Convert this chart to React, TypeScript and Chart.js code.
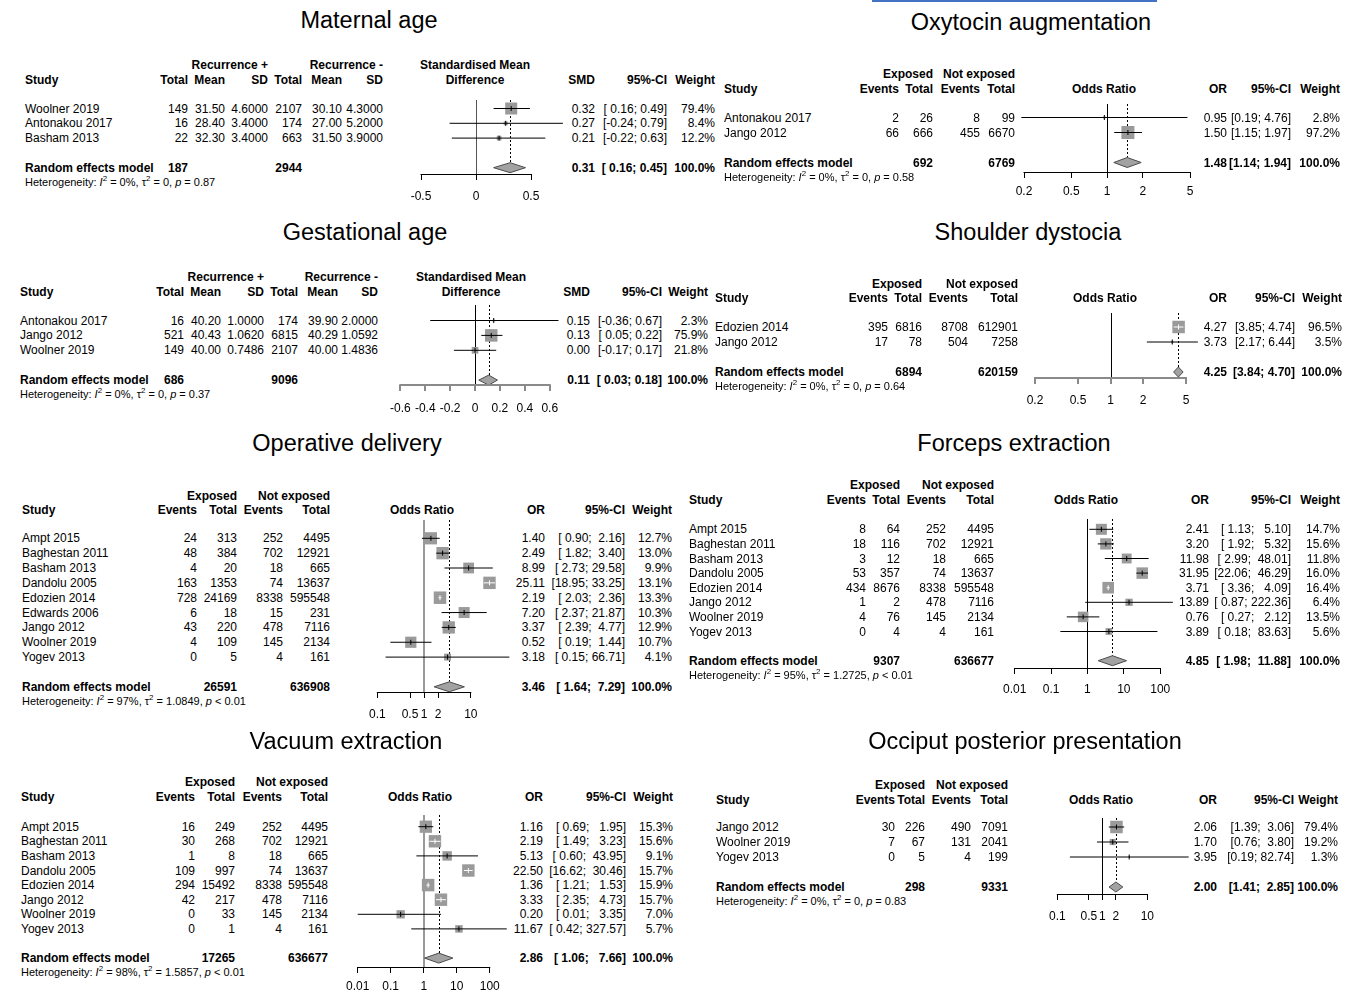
import React, { useEffect, useRef } from "react";
import { Chart, registerables } from "chart.js";

Chart.register(...registerables);

const FONT = '"Liberation Sans", Arial, Helvetica, sans-serif';
const SQUARE = "#9a9a9a";
const DIAMOND_FILL = "#a2a2a2";
const DIAMOND_LINE = "#4a4a4a";
const DIAMOND_H = 5;

// ---------------- Maternal age (SMD) ----------------
const MA_STUDIES = ["Woolner 2019", "Antonakou 2017", "Basham 2013"];
const MA_TOTAL_POS = [149, 16, 22];
const MA_MEAN_POS = [31.5, 28.4, 32.3];
const MA_SD_POS = [4.6, 3.4, 3.4];
const MA_TOTAL_NEG = [2107, 174, 663];
const MA_MEAN_NEG = [30.1, 27.0, 31.5];
const MA_SD_NEG = [4.3, 5.2, 3.9];
const MA_SMD = [0.32, 0.27, 0.21];
const MA_LOWER = [0.16, -0.24, -0.22];
const MA_UPPER = [0.49, 0.79, 0.63];
const MA_WEIGHT = [79.4, 8.4, 12.2];
const MA_POOLED = [0.31, 0.16, 0.45];
const MA_TOTALS = [187, 2944];
const MA_HET = ["0%", "0", "= 0.87"];
const MA_TICKS = [-0.5, 0, 0.5];
const MA_TICK_LABELS = ["-0.5", "0", "0.5"];

// ---------------- Gestational age (SMD) ----------------
const GA_STUDIES = ["Antonakou 2017", "Jango 2012", "Woolner 2019"];
const GA_TOTAL_POS = [16, 521, 149];
const GA_MEAN_POS = [40.2, 40.43, 40.0];
const GA_SD_POS = [1.0, 1.062, 0.7486];
const GA_TOTAL_NEG = [174, 6815, 2107];
const GA_MEAN_NEG = [39.9, 40.29, 40.0];
const GA_SD_NEG = [2.0, 1.0592, 1.4836];
const GA_SMD = [0.15, 0.13, 0.0];
const GA_LOWER = [-0.36, 0.05, -0.17];
const GA_UPPER = [0.67, 0.22, 0.17];
const GA_WEIGHT = [2.3, 75.9, 21.8];
const GA_POOLED = [0.11, 0.03, 0.18];
const GA_TOTALS = [686, 9096];
const GA_HET = ["0%", "0", "= 0.37"];
const GA_TICKS = [-0.6, -0.4, -0.2, 0, 0.2, 0.4, 0.6];
const GA_TICK_LABELS = ["-0.6", "-0.4", "-0.2", "0", "0.2", "0.4", "0.6"];

// ---------------- Oxytocin augmentation (OR) ----------------
const OX_STUDIES = ["Antonakou 2017", "Jango 2012"];
const OX_EVENTS_EXP = [2, 66];
const OX_TOTAL_EXP = [26, 666];
const OX_EVENTS_NOT = [8, 455];
const OX_TOTAL_NOT = [99, 6670];
const OX_OR = [0.95, 1.5];
const OX_LOWER = [0.19, 1.15];
const OX_UPPER = [4.76, 1.97];
const OX_WEIGHT = [2.8, 97.2];
const OX_POOLED = [1.48, 1.14, 1.94];
const OX_TOTALS = [692, 6769];
const OX_HET = ["0%", "0", "= 0.58"];

// ---------------- Shoulder dystocia (OR) ----------------
const SD_STUDIES = ["Edozien 2014", "Jango 2012"];
const SD_EVENTS_EXP = [395, 17];
const SD_TOTAL_EXP = [6816, 78];
const SD_EVENTS_NOT = [8708, 504];
const SD_TOTAL_NOT = [612901, 7258];
const SD_OR = [4.27, 3.73];
const SD_LOWER = [3.85, 2.17];
const SD_UPPER = [4.74, 6.44];
const SD_WEIGHT = [96.5, 3.5];
const SD_POOLED = [4.25, 3.84, 4.7];
const SD_TOTALS = [6894, 620159];
const SD_HET = ["0%", "0", "= 0.64"];

const OR_TICKS_A = [0.2, 0.5, 1, 2, 5];
const OR_TICK_LABELS_A = ["0.2", "0.5", "1", "2", "5"];
const OR_TICKS_B = [0.1, 0.5, 1, 2, 10];
const OR_TICK_LABELS_B = ["0.1", "0.5", "1", "2", "10"];
const OR_TICKS_C = [0.01, 0.1, 1, 10, 100];
const OR_TICK_LABELS_C = ["0.01", "0.1", "1", "10", "100"];

// ---------------- Operative delivery (OR) ----------------
const OP_STUDIES = ["Ampt 2015", "Baghestan 2011", "Basham 2013", "Dandolu 2005", "Edozien 2014", "Edwards 2006", "Jango 2012", "Woolner 2019", "Yogev 2013"];
const OP_EVENTS_EXP = [24, 48, 4, 163, 728, 6, 43, 4, 0];
const OP_TOTAL_EXP = [313, 384, 20, 1353, 24169, 18, 220, 109, 5];
const OP_EVENTS_NOT = [252, 702, 18, 74, 8338, 15, 478, 145, 4];
const OP_TOTAL_NOT = [4495, 12921, 665, 13637, 595548, 231, 7116, 2134, 161];
const OP_OR = [1.4, 2.49, 8.99, 25.11, 2.19, 7.2, 3.37, 0.52, 3.18];
const OP_LOWER = [0.9, 1.82, 2.73, 18.95, 2.03, 2.37, 2.39, 0.19, 0.15];
const OP_UPPER = [2.16, 3.4, 29.58, 33.25, 2.36, 21.87, 4.77, 1.44, 66.71];
const OP_WEIGHT = [12.7, 13.0, 9.9, 13.1, 13.3, 10.3, 12.9, 10.7, 4.1];
const OP_POOLED = [3.46, 1.64, 7.29];
const OP_TOTALS = [26591, 636908];
const OP_HET = ["97%", "1.0849", "< 0.01"];

// ---------------- Forceps extraction (OR) ----------------
const FO_STUDIES = ["Ampt 2015", "Baghestan 2011", "Basham 2013", "Dandolu 2005", "Edozien 2014", "Jango 2012", "Woolner 2019", "Yogev 2013"];
const FO_EVENTS_EXP = [8, 18, 3, 53, 434, 1, 4, 0];
const FO_TOTAL_EXP = [64, 116, 12, 357, 8676, 2, 76, 4];
const FO_EVENTS_NOT = [252, 702, 18, 74, 8338, 478, 145, 4];
const FO_TOTAL_NOT = [4495, 12921, 665, 13637, 595548, 7116, 2134, 161];
const FO_OR = [2.41, 3.2, 11.98, 31.95, 3.71, 13.89, 0.76, 3.89];
const FO_LOWER = [1.13, 1.92, 2.99, 22.06, 3.36, 0.87, 0.27, 0.18];
const FO_UPPER = [5.1, 5.32, 48.01, 46.29, 4.09, 222.36, 2.12, 83.63];
const FO_WEIGHT = [14.7, 15.6, 11.8, 16.0, 16.4, 6.4, 13.5, 5.6];
const FO_POOLED = [4.85, 1.98, 11.88];
const FO_TOTALS = [9307, 636677];
const FO_HET = ["95%", "1.2725", "< 0.01"];

// ---------------- Vacuum extraction (OR) ----------------
const VA_STUDIES = ["Ampt 2015", "Baghestan 2011", "Basham 2013", "Dandolu 2005", "Edozien 2014", "Jango 2012", "Woolner 2019", "Yogev 2013"];
const VA_EVENTS_EXP = [16, 30, 1, 109, 294, 42, 0, 0];
const VA_TOTAL_EXP = [249, 268, 8, 997, 15492, 217, 33, 1];
const VA_EVENTS_NOT = [252, 702, 18, 74, 8338, 478, 145, 4];
const VA_TOTAL_NOT = [4495, 12921, 665, 13637, 595548, 7116, 2134, 161];
const VA_OR = [1.16, 2.19, 5.13, 22.5, 1.36, 3.33, 0.2, 11.67];
const VA_LOWER = [0.69, 1.49, 0.6, 16.62, 1.21, 2.35, 0.01, 0.42];
const VA_UPPER = [1.95, 3.23, 43.95, 30.46, 1.53, 4.73, 3.35, 327.57];
const VA_WEIGHT = [15.3, 15.6, 9.1, 15.7, 15.9, 15.7, 7.0, 5.7];
const VA_POOLED = [2.86, 1.06, 7.66];
const VA_TOTALS = [17265, 636677];
const VA_HET = ["98%", "1.5857", "< 0.01"];

// ---------------- Occiput posterior presentation (OR) ----------------
const OC_STUDIES = ["Jango 2012", "Woolner 2019", "Yogev 2013"];
const OC_EVENTS_EXP = [30, 7, 0];
const OC_TOTAL_EXP = [226, 67, 5];
const OC_EVENTS_NOT = [490, 131, 4];
const OC_TOTAL_NOT = [7091, 2041, 199];
const OC_OR = [2.06, 1.7, 3.95];
const OC_LOWER = [1.39, 0.76, 0.19];
const OC_UPPER = [3.06, 3.8, 82.74];
const OC_WEIGHT = [79.4, 19.2, 1.3];
const OC_POOLED = [2.0, 1.41, 2.85];
const OC_TOTALS = [298, 9331];
const OC_HET = ["0%", "0", "= 0.83"];

// ---------------- helpers ----------------
const f2 = (v: number) => v.toFixed(2);
const f4 = (v: number) => v.toFixed(4);
const pct = (v: number) => v.toFixed(1) + "%";
const str = (a: number[]) => a.map((v) => String(v));

function ciStrings(lo: number[], hi: number[], plo: number, phi: number) {
  const L = [...lo, plo].map(f2);
  const H = [...hi, phi].map(f2);
  const wl = Math.max(...L.map((s) => s.length));
  const wh = Math.max(...H.map((s) => s.length));
  return L.map((l, i) => `[${l.padStart(wl)}; ${H[i].padStart(wh)}]`);
}

type Panel = {
  kind: "smd" | "or";
  title: string; titleX: number; titleY: number;
  studyX: number; h1Y: number; h2Y: number; rowY0: number; rowH: number;
  colX: number[]; effX: number; estX: number; ciX: number; wX: number;
  studies: string[]; cols: string[][]; totals: number[];
  est: number[]; lo: number[]; hi: number[]; w: number[]; pool: number[]; het: string[];
  log: boolean; ticks: number[]; tickLabels: string[]; px0: number; px1: number; nullValue: number;
  chartLeft: number; chartWidth: number; nullTop: number; axisY: number; tickPad: number;
  nullColor: string; nullWidth: number; axisColor: string; axisWidth: number; maxSide: number;
};

const PANELS: Panel[] = [
  {
    kind: "smd", title: "Maternal age", titleX: 369, titleY: 20,
    studyX: 25, h1Y: 65, h2Y: 80, rowY0: 108.5, rowH: 14.8,
    colX: [188, 225, 268, 302, 342, 383], effX: 475, estX: 595, ciX: 667, wX: 715,
    studies: MA_STUDIES,
    cols: [str(MA_TOTAL_POS), MA_MEAN_POS.map(f2), MA_SD_POS.map(f4), str(MA_TOTAL_NEG), MA_MEAN_NEG.map(f2), MA_SD_NEG.map(f4)],
    totals: MA_TOTALS, est: MA_SMD, lo: MA_LOWER, hi: MA_UPPER, w: MA_WEIGHT, pool: MA_POOLED, het: MA_HET,
    log: false, ticks: MA_TICKS, tickLabels: MA_TICK_LABELS, px0: 421, px1: 531, nullValue: 0,
    chartLeft: 400, chartWidth: 180, nullTop: 100, axisY: 174, tickPad: 9,
    nullColor: "#555555", nullWidth: 1, axisColor: "#000000", axisWidth: 1, maxSide: 12,
  },
  {
    kind: "smd", title: "Gestational age", titleX: 365, titleY: 232,
    studyX: 20, h1Y: 277, h2Y: 292, rowY0: 320.5, rowH: 14.9,
    colX: [184, 221, 264, 298, 338, 378], effX: 471, estX: 590, ciX: 662, wX: 708,
    studies: GA_STUDIES,
    cols: [str(GA_TOTAL_POS), GA_MEAN_POS.map(f2), GA_SD_POS.map(f4), str(GA_TOTAL_NEG), GA_MEAN_NEG.map(f2), GA_SD_NEG.map(f4)],
    totals: GA_TOTALS, est: GA_SMD, lo: GA_LOWER, hi: GA_UPPER, w: GA_WEIGHT, pool: GA_POOLED, het: GA_HET,
    log: false, ticks: GA_TICKS, tickLabels: GA_TICK_LABELS, px0: 394, px1: 549, nullValue: 0,
    chartLeft: 380, chartWidth: 190, nullTop: 305, axisY: 385, tickPad: 10,
    nullColor: "#000000", nullWidth: 1, axisColor: "#8a8a8a", axisWidth: 2, maxSide: 12.5,
  },
  {
    kind: "or", title: "Oxytocin augmentation", titleX: 1031, titleY: 22,
    studyX: 724, h1Y: 74, h2Y: 89, rowY0: 117.5, rowH: 15,
    colX: [899, 933, 980, 1015], effX: 1104, estX: 1227, ciX: 1291, wX: 1340,
    studies: OX_STUDIES,
    cols: [str(OX_EVENTS_EXP), str(OX_TOTAL_EXP), str(OX_EVENTS_NOT), str(OX_TOTAL_NOT)],
    totals: OX_TOTALS, est: OX_OR, lo: OX_LOWER, hi: OX_UPPER, w: OX_WEIGHT, pool: OX_POOLED, het: OX_HET,
    log: true, ticks: OR_TICKS_A, tickLabels: OR_TICK_LABELS_A, px0: 1024, px1: 1190, nullValue: 1,
    chartLeft: 1005, chartWidth: 195, nullTop: 104, axisY: 172, tickPad: 6,
    nullColor: "#000000", nullWidth: 1, axisColor: "#000000", axisWidth: 1, maxSide: 13,
  },
  {
    kind: "or", title: "Shoulder dystocia", titleX: 1028, titleY: 232,
    studyX: 715, h1Y: 284, h2Y: 298, rowY0: 327, rowH: 15,
    colX: [888, 922, 968, 1018], effX: 1105, estX: 1227, ciX: 1295, wX: 1342,
    studies: SD_STUDIES,
    cols: [str(SD_EVENTS_EXP), str(SD_TOTAL_EXP), str(SD_EVENTS_NOT), str(SD_TOTAL_NOT)],
    totals: SD_TOTALS, est: SD_OR, lo: SD_LOWER, hi: SD_UPPER, w: SD_WEIGHT, pool: SD_POOLED, het: SD_HET,
    log: true, ticks: OR_TICKS_A, tickLabels: OR_TICK_LABELS_A, px0: 1035, px1: 1186, nullValue: 1,
    chartLeft: 1015, chartWidth: 190, nullTop: 313, axisY: 378, tickPad: 9,
    nullColor: "#000000", nullWidth: 1, axisColor: "#8a8a8a", axisWidth: 2, maxSide: 12.5,
  },
  {
    kind: "or", title: "Operative delivery", titleX: 347, titleY: 443,
    studyX: 22, h1Y: 496, h2Y: 510, rowY0: 538.3, rowH: 14.85,
    colX: [197, 237, 283, 330], effX: 422, estX: 545, ciX: 625, wX: 672,
    studies: OP_STUDIES,
    cols: [str(OP_EVENTS_EXP), str(OP_TOTAL_EXP), str(OP_EVENTS_NOT), str(OP_TOTAL_NOT)],
    totals: OP_TOTALS, est: OP_OR, lo: OP_LOWER, hi: OP_UPPER, w: OP_WEIGHT, pool: OP_POOLED, het: OP_HET,
    log: true, ticks: OR_TICKS_B, tickLabels: OR_TICK_LABELS_B, px0: 375, px1: 470, nullValue: 1,
    chartLeft: 360, chartWidth: 160, nullTop: 520, axisY: 692, tickPad: 9,
    nullColor: "#9a9a9a", nullWidth: 2, axisColor: "#000000", axisWidth: 1, maxSide: 12.5,
  },
  {
    kind: "or", title: "Forceps extraction", titleX: 1014, titleY: 443,
    studyX: 689, h1Y: 485, h2Y: 500, rowY0: 529.3, rowH: 14.6,
    colX: [866, 900, 946, 994], effX: 1086, estX: 1209, ciX: 1291, wX: 1340,
    studies: FO_STUDIES,
    cols: [str(FO_EVENTS_EXP), str(FO_TOTAL_EXP), str(FO_EVENTS_NOT), str(FO_TOTAL_NOT)],
    totals: FO_TOTALS, est: FO_OR, lo: FO_LOWER, hi: FO_UPPER, w: FO_WEIGHT, pool: FO_POOLED, het: FO_HET,
    log: true, ticks: OR_TICKS_C, tickLabels: OR_TICK_LABELS_C, px0: 1013, px1: 1160, nullValue: 1,
    chartLeft: 995, chartWidth: 190, nullTop: 519, axisY: 668, tickPad: 8,
    nullColor: "#000000", nullWidth: 1, axisColor: "#000000", axisWidth: 1, maxSide: 11.6,
  },
  {
    kind: "or", title: "Vacuum extraction", titleX: 346, titleY: 741,
    studyX: 21, h1Y: 782, h2Y: 797, rowY0: 826.7, rowH: 14.6,
    colX: [195, 235, 282, 328], effX: 420, estX: 543, ciX: 626, wX: 673,
    studies: VA_STUDIES,
    cols: [str(VA_EVENTS_EXP), str(VA_TOTAL_EXP), str(VA_EVENTS_NOT), str(VA_TOTAL_NOT)],
    totals: VA_TOTALS, est: VA_OR, lo: VA_LOWER, hi: VA_UPPER, w: VA_WEIGHT, pool: VA_POOLED, het: VA_HET,
    log: true, ticks: OR_TICKS_C, tickLabels: OR_TICK_LABELS_C, px0: 353, px1: 489, nullValue: 1,
    chartLeft: 340, chartWidth: 175, nullTop: 815, axisY: 967, tickPad: 6,
    nullColor: "#9a9a9a", nullWidth: 2, axisColor: "#000000", axisWidth: 1, maxSide: 12.5,
  },
  {
    kind: "or", title: "Occiput posterior presentation", titleX: 1025, titleY: 741,
    studyX: 716, h1Y: 785, h2Y: 800, rowY0: 827, rowH: 15,
    colX: [895, 925, 971, 1008], effX: 1101, estX: 1217, ciX: 1294, wX: 1338,
    studies: OC_STUDIES,
    cols: [str(OC_EVENTS_EXP), str(OC_TOTAL_EXP), str(OC_EVENTS_NOT), str(OC_TOTAL_NOT)],
    totals: OC_TOTALS, est: OC_OR, lo: OC_LOWER, hi: OC_UPPER, w: OC_WEIGHT, pool: OC_POOLED, het: OC_HET,
    log: true, ticks: OR_TICKS_B, tickLabels: OR_TICK_LABELS_B, px0: 1055, px1: 1146.5, nullValue: 1,
    chartLeft: 1040, chartWidth: 160, nullTop: 818, axisY: 894, tickPad: 9,
    nullColor: "#000000", nullWidth: 1, axisColor: "#000000", axisWidth: 1, maxSide: 12.5,
  },
];

function Txt({ x, y, a = "l", b = false, size = 12, children }: any) {
  const lh = Math.round(size * 1.5);
  const style: any = {
    position: "absolute", top: y - lh / 2, height: lh, lineHeight: lh + "px",
    fontSize: size, fontWeight: b ? "bold" : "normal", whiteSpace: "pre",
    fontFamily: FONT, color: "#000",
  };
  if (a === "l") style.left = x;
  else if (a === "r") { style.left = x - 400; style.width = 400; style.textAlign = "right"; }
  else { style.left = x - 300; style.width = 600; style.textAlign = "center"; }
  return <div style={style}>{children}</div>;
}

const supStyle: any = { fontSize: "0.72em", lineHeight: 0, verticalAlign: "super" };

function ForestChart({ p }: { p: Panel }) {
  const ref = useRef<HTMLCanvasElement | null>(null);
  const AXIS_H = 36;
  const areaH = p.axisY - p.nullTop;
  const H = areaH + AXIS_H;

  useEffect(() => {
    if (!ref.current) return;
    const n = p.est.length;
    const tr = (v: number) => (p.log ? Math.log10(v) : v);
    const inv = (u: number) => (p.log ? Math.pow(10, u) : u);
    const t0 = tr(p.ticks[0]);
    const t1 = tr(p.ticks[p.ticks.length - 1]);
    const ppu = (p.px1 - p.px0) / (t1 - t0);
    const uMin = t0 - (p.px0 - p.chartLeft) / ppu;
    const uMax = uMin + p.chartWidth / ppu;
    const yMin = -(p.rowY0 - p.nullTop) / p.rowH;
    const yMax = yMin + areaH / p.rowH;
    const wMax = Math.max(...p.w);
    const sides = p.w.map((w) => p.maxSide * Math.sqrt(w / wMax));
    const white = p.lo.map((l, i) => (tr(p.hi[i]) - tr(l)) * ppu < sides[i]);
    const ink = white.map((wh) => (wh ? "#ffffff" : "#000000"));

    const datasets: any[] = [
      {
        type: "scatter",
        data: p.est.map((e, i) => ({ x: e, y: i })),
        pointStyle: "rect",
        pointRadius: sides.map((s) => s / Math.SQRT2),
        pointBackgroundColor: SQUARE,
        pointBorderWidth: 0,
        order: 3,
        clip: false,
      },
      ...p.lo.map((l, i) => ({
        type: "line",
        data: [{ x: l, y: i }, { x: p.hi[i], y: i }],
        borderColor: ink[i],
        borderWidth: 1,
        pointRadius: 0,
        order: 2,
        clip: false,
      })),
      {
        type: "scatter",
        data: p.est.map((e, i) => ({ x: e, y: i })),
        pointStyle: "line",
        pointRotation: 90,
        pointRadius: 2.5,
        pointBorderColor: ink,
        pointBackgroundColor: ink,
        pointBorderWidth: 1,
        order: 1,
        clip: false,
      },
    ];

    const forestPlugin = {
      id: "forest",
      beforeDatasetsDraw(chart: any) {
        const { ctx, chartArea } = chart;
        const x = chart.scales.x, y = chart.scales.y;
        ctx.save();
        const nx = Math.round(x.getPixelForValue(p.nullValue)) + (p.nullWidth % 2 ? 0.5 : 0);
        ctx.strokeStyle = p.nullColor;
        ctx.lineWidth = p.nullWidth;
        ctx.beginPath();
        ctx.moveTo(nx, chartArea.top);
        ctx.lineTo(nx, chartArea.bottom);
        ctx.stroke();
        const px = Math.round(x.getPixelForValue(p.pool[0])) + 0.5;
        const dy = y.getPixelForValue(n + 1) - DIAMOND_H;
        ctx.strokeStyle = "#000";
        ctx.lineWidth = 1;
        ctx.setLineDash([2, 2]);
        ctx.beginPath();
        ctx.moveTo(px, chartArea.top);
        ctx.lineTo(px, dy);
        ctx.stroke();
        ctx.restore();
      },
      afterDatasetsDraw(chart: any) {
        const { ctx } = chart;
        const x = chart.scales.x, y = chart.scales.y;
        const yc = y.getPixelForValue(n + 1);
        const xl = x.getPixelForValue(p.pool[1]);
        const xc = x.getPixelForValue(p.pool[0]);
        const xr = x.getPixelForValue(p.pool[2]);
        ctx.save();
        ctx.beginPath();
        ctx.moveTo(xl, yc);
        ctx.lineTo(xc, yc - DIAMOND_H);
        ctx.lineTo(xr, yc);
        ctx.lineTo(xc, yc + DIAMOND_H);
        ctx.closePath();
        ctx.fillStyle = DIAMOND_FILL;
        ctx.fill();
        ctx.strokeStyle = DIAMOND_LINE;
        ctx.lineWidth = 1;
        ctx.stroke();
        ctx.restore();
      },
      afterDraw(chart: any) {
        const { ctx } = chart;
        const x = chart.scales.x;
        const ya = Math.round(x.top) + (p.axisWidth % 2 ? 0.5 : 0);
        ctx.save();
        ctx.strokeStyle = p.axisColor;
        ctx.lineWidth = p.axisWidth;
        ctx.beginPath();
        ctx.moveTo(x.getPixelForValue(p.ticks[0]) - p.axisWidth / 2, ya);
        ctx.lineTo(x.getPixelForValue(p.ticks[p.ticks.length - 1]) + p.axisWidth / 2, ya);
        ctx.stroke();
        ctx.restore();
      },
    };

    const chart = new Chart(ref.current, {
      type: "scatter",
      data: { datasets },
      options: {
        animation: false,
        responsive: false,
        events: [],
        layout: { padding: 0, autoPadding: false },
        plugins: { legend: { display: false }, tooltip: { enabled: false }, title: { display: false } },
        scales: {
          x: {
            type: p.log ? "logarithmic" : "linear",
            position: "bottom",
            min: inv(uMin),
            max: inv(uMax),
            bounds: "data",
            afterBuildTicks: (s: any) => {
              s.ticks = p.ticks.map((v) => ({ value: v }));
            },
            afterFit: (s: any) => {
              s.height = AXIS_H;
            },
            grid: {
              display: true,
              drawOnChartArea: false,
              drawTicks: true,
              tickLength: 6,
              color: p.axisColor,
              lineWidth: p.axisWidth,
            },
            border: { display: false },
            ticks: {
              autoSkip: false,
              maxRotation: 0,
              minRotation: 0,
              padding: p.tickPad,
              color: "#000",
              font: { family: FONT, size: 12 },
              callback: (_v: any, i: number) => p.tickLabels[i],
            },
          },
          y: {
            type: "linear",
            display: false,
            reverse: true,
            min: yMin,
            max: yMax,
            bounds: "data",
          },
        },
      } as any,
      plugins: [forestPlugin],
    } as any);
    return () => chart.destroy();
  }, []);

  return (
    <canvas
      ref={ref}
      width={p.chartWidth}
      height={H}
      style={{ position: "absolute", left: p.chartLeft, top: p.nullTop, width: p.chartWidth, height: H }}
    />
  );
}

function PanelView({ p }: { p: Panel }) {
  const n = p.studies.length;
  const rowY = (i: number) => p.rowY0 + i * p.rowH;
  const reY = rowY(n + 1);
  const ci = ciStrings(p.lo, p.hi, p.pool[1], p.pool[2]);
  const isSmd = p.kind === "smd";
  const hdr2 = isSmd ? ["Total", "Mean", "SD", "Total", "Mean", "SD"] : ["Events", "Total", "Events", "Total"];
  const g1 = isSmd ? "Recurrence +" : "Exposed";
  const g2 = isSmd ? "Recurrence -" : "Not exposed";
  const g1Col = isSmd ? 2 : 1;
  const g2Col = isSmd ? 5 : 3;
  const totCols = isSmd ? [0, 3] : [1, 3];
  return (
    <>
      <Txt x={p.titleX} y={p.titleY} a="c" size={23.5}>{p.title}</Txt>
      <Txt x={p.colX[g1Col]} y={p.h1Y} a="r" b>{g1}</Txt>
      <Txt x={p.colX[g2Col]} y={p.h1Y} a="r" b>{g2}</Txt>
      <Txt x={p.studyX} y={p.h2Y} b>Study</Txt>
      {hdr2.map((h, j) => (
        <Txt key={"h" + j} x={p.colX[j]} y={p.h2Y} a="r" b>{h}</Txt>
      ))}
      {isSmd ? (
        <>
          <Txt x={p.effX} y={p.h1Y} a="c" b>Standardised Mean</Txt>
          <Txt x={p.effX} y={p.h2Y} a="c" b>Difference</Txt>
        </>
      ) : (
        <Txt x={p.effX} y={p.h2Y} a="c" b>Odds Ratio</Txt>
      )}
      <Txt x={p.estX} y={p.h2Y} a="r" b>{isSmd ? "SMD" : "OR"}</Txt>
      <Txt x={p.ciX} y={p.h2Y} a="r" b>95%-CI</Txt>
      <Txt x={p.wX} y={p.h2Y} a="r" b>Weight</Txt>
      {p.studies.map((s, i) => (
        <React.Fragment key={s}>
          <Txt x={p.studyX} y={rowY(i)}>{s}</Txt>
          {p.cols.map((c, j) => (
            <Txt key={j} x={p.colX[j]} y={rowY(i)} a="r">{c[i]}</Txt>
          ))}
          <Txt x={p.estX} y={rowY(i)} a="r">{f2(p.est[i])}</Txt>
          <Txt x={p.ciX} y={rowY(i)} a="r">{ci[i]}</Txt>
          <Txt x={p.wX} y={rowY(i)} a="r">{pct(p.w[i])}</Txt>
        </React.Fragment>
      ))}
      <Txt x={p.studyX} y={reY} b>Random effects model</Txt>
      <Txt x={p.colX[totCols[0]]} y={reY} a="r" b>{String(p.totals[0])}</Txt>
      <Txt x={p.colX[totCols[1]]} y={reY} a="r" b>{String(p.totals[1])}</Txt>
      <Txt x={p.estX} y={reY} a="r" b>{f2(p.pool[0])}</Txt>
      <Txt x={p.ciX} y={reY} a="r" b>{ci[n]}</Txt>
      <Txt x={p.wX} y={reY} a="r" b>100.0%</Txt>
      <Txt x={p.studyX} y={reY + 14.5} size={11}>
        {"Heterogeneity: "}<i>I</i><span style={supStyle}>2</span>{" = " + p.het[0] + ", τ"}
        <span style={supStyle}>2</span>{" = " + p.het[1] + ", "}<i>p</i>{" " + p.het[2]}
      </Txt>
      <ForestChart p={p} />
    </>
  );
}

export default function App() {
  return (
    <div
      style={{
        position: "absolute", left: 0, top: 0, width: 1353, height: 993,
        overflow: "hidden", background: "#ffffff", fontFamily: FONT,
      }}
    >
      <div style={{ position: "absolute", left: 872, top: 0, width: 285, height: 2, background: "#4472c4" }} />
      {PANELS.map((p) => (
        <PanelView key={p.title} p={p} />
      ))}
    </div>
  );
}
